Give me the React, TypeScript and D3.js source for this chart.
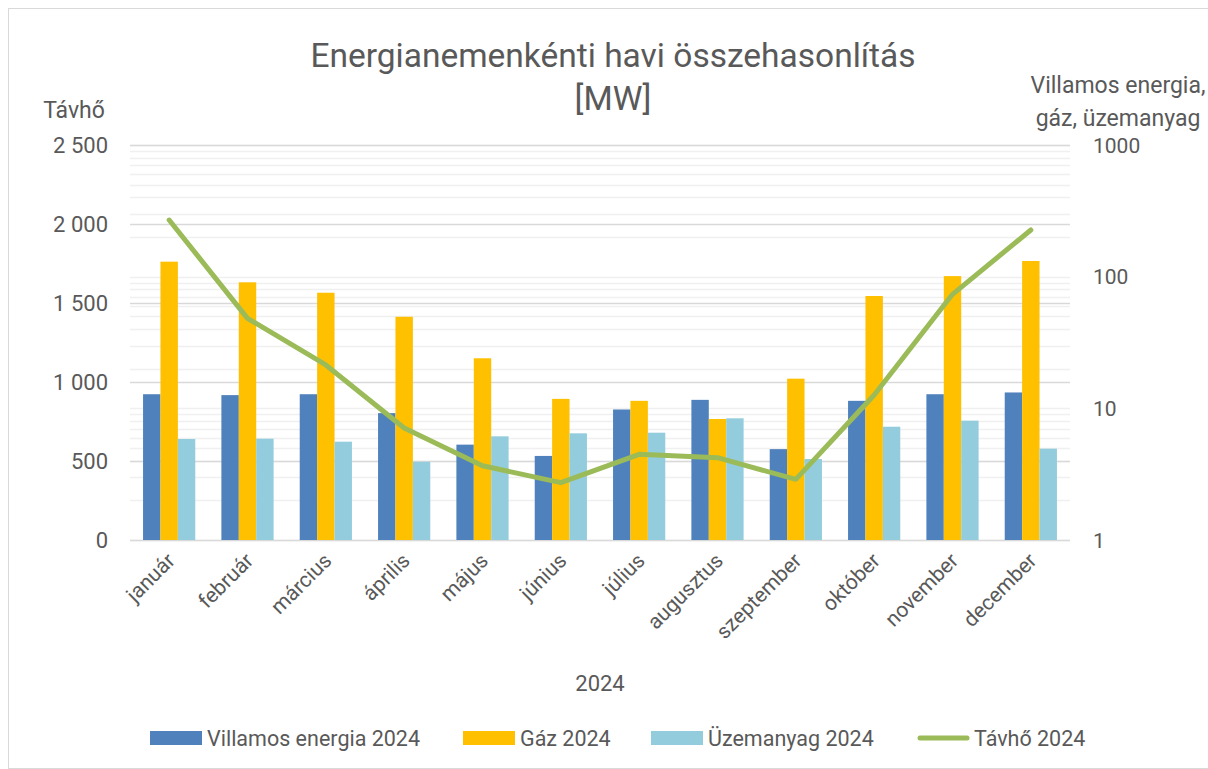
import React, { useEffect, useRef } from 'react';
import * as d3 from 'd3';

const months = ['január', 'február', 'március', 'április', 'május', 'június', 'július', 'augusztus', 'szeptember', 'október', 'november', 'december'];

// right (log) axis: Villamos energia, gáz, üzemanyag
const villamos = [12.8, 12.6, 12.8, 9.2, 5.3, 4.35, 9.8, 11.6, 4.9, 11.4, 12.8, 13.2];
const gaz = [130, 90.6, 75.5, 49.6, 24.0, 11.8, 11.4, 8.3, 16.8, 71.3, 101, 131.5];
const uzemanyag = [5.85, 5.88, 5.58, 3.93, 6.13, 6.46, 6.53, 8.4, 4.12, 7.25, 8.06, 4.94];

// left axis: Távhő
const tavho = [2025, 1403, 1108, 709, 470, 363, 542, 521, 384, 918, 1555, 1962];

const leftTicks = [0, 500, 1000, 1500, 2000, 2500];
const rightTicks = [1, 10, 100, 1000];

const seriesNames = ['Villamos energia 2024', 'Gáz 2024', 'Üzemanyag 2024'];
const colors = ['#4f81bd', '#ffc000', '#93cddd'];
const lineColor = '#9bbb59';

const W = 1208;
const H = 769;
const FONT = 'Roboto, "Open Sans", sans-serif';
const TEXT = '#595959';

const App = () => {
  const svgRef = useRef(null);

  useEffect(() => {
    const svg = d3.select(svgRef.current);
    svg.selectAll('*').remove();

    const plot = { left: 130, right: 1070, top: 145, bottom: 540 };

    const x = d3.scaleBand().domain(months).range([plot.left, plot.right]).paddingInner(0).paddingOuter(0);
    const barW = x.bandwidth() / 4.5;
    const xs = d3.scaleBand().domain(d3.range(3).map(String)).range([0, barW * 3]);

    const yLeft = d3.scaleLinear().domain([0, 2500]).range([plot.bottom, plot.top]);
    const yRight = d3.scaleLog().domain([1, 1000]).range([plot.bottom, plot.top]);

    // chart frame
    svg.append('rect')
      .attr('x', 8.5).attr('y', 8.5)
      .attr('width', W + 10).attr('height', H - 9)
      .attr('fill', 'white')
      .attr('stroke', '#d9d9d9');

    // minor log gridlines
    const minor = [];
    [1, 10, 100].forEach(d => { for (let k = 1; k <= 9; k++) minor.push(k * d); });
    minor.push(1000);
    svg.append('g').selectAll('line')
      .data(minor)
      .enter().append('line')
      .attr('x1', plot.left).attr('x2', plot.right)
      .attr('y1', d => Math.round(yRight(d)) + 0.5)
      .attr('y2', d => Math.round(yRight(d)) + 0.5)
      .attr('stroke', '#f0f0f0').attr('stroke-width', 1.5);

    // major left gridlines
    svg.append('g').selectAll('line')
      .data(leftTicks)
      .enter().append('line')
      .attr('x1', plot.left).attr('x2', plot.right)
      .attr('y1', d => Math.round(yLeft(d)) + 0.5)
      .attr('y2', d => Math.round(yLeft(d)) + 0.5)
      .attr('stroke', '#d9d9d9').attr('stroke-width', 1.5);

    // bars
    const barSeries = [villamos, gaz, uzemanyag];
    barSeries.forEach((vals, si) => {
      svg.append('g').selectAll('rect')
        .data(vals)
        .enter().append('rect')
        .attr('x', (d, i) => x(months[i]) + barW * 0.75 + xs(String(si)))
        .attr('y', d => yRight(d))
        .attr('width', xs.bandwidth())
        .attr('height', d => yRight(1) - yRight(d))
        .attr('fill', colors[si]);
    });

    // line
    const line = d3.line()
      .x((d, i) => x(months[i]) + x.bandwidth() / 2)
      .y(d => yLeft(d));
    svg.append('path')
      .datum(tavho)
      .attr('d', line)
      .attr('fill', 'none')
      .attr('stroke', lineColor)
      .attr('stroke-width', 5)
      .attr('stroke-linejoin', 'round')
      .attr('stroke-linecap', 'round');

    // title
    const title = svg.append('text')
      .attr('text-anchor', 'middle')
      .attr('font-family', FONT)
      .attr('font-size', 33.5)
      .attr('fill', TEXT);
    title.append('tspan').attr('x', 613).attr('y', 67).text('Energianemenkénti havi összehasonlítás');
    title.append('tspan').attr('x', 613).attr('y', 110).text('[MW]');

    // left axis
    svg.append('g').selectAll('text')
      .data(leftTicks)
      .enter().append('text')
      .attr('x', 108)
      .attr('y', d => yLeft(d))
      .attr('dy', '0.36em')
      .attr('text-anchor', 'end')
      .attr('font-family', FONT)
      .attr('font-size', 22)
      .attr('fill', TEXT)
      .text(d => d3.format(',')(d).replace(/,/g, ' '));

    svg.append('text')
      .attr('x', 74).attr('y', 118)
      .attr('text-anchor', 'middle')
      .attr('font-family', FONT)
      .attr('font-size', 23)
      .attr('fill', TEXT)
      .text('Távhő');

    // right axis
    svg.append('g').selectAll('text')
      .data(rightTicks)
      .enter().append('text')
      .attr('x', 1093)
      .attr('y', d => yRight(d))
      .attr('dy', '0.36em')
      .attr('font-family', FONT)
      .attr('font-size', 21)
      .attr('fill', TEXT)
      .text(d => String(d));

    const rTitle = svg.append('text')
      .attr('text-anchor', 'middle')
      .attr('font-family', FONT)
      .attr('font-size', 23)
      .attr('fill', TEXT);
    rTitle.append('tspan').attr('x', 1118).attr('y', 93).text('Villamos energia,');
    rTitle.append('tspan').attr('x', 1118).attr('y', 126).text('gáz, üzemanyag');

    // x axis labels
    svg.append('g').selectAll('text')
      .data(months)
      .enter().append('text')
      .attr('transform', d => `translate(${x(d) + x.bandwidth() / 2 + 7},${plot.bottom + 22}) rotate(-45)`)
      .attr('text-anchor', 'end')
      .attr('font-family', FONT)
      .attr('font-size', 21)
      .attr('fill', TEXT)
      .text(d => d);

    svg.append('text')
      .attr('x', 600).attr('y', 691)
      .attr('text-anchor', 'middle')
      .attr('font-family', FONT)
      .attr('font-size', 22)
      .attr('fill', TEXT)
      .text('2024');

    // legend
    const legendX = [150, 463, 651, 917];
    const legend = svg.append('g');
    seriesNames.forEach((name, i) => {
      legend.append('rect')
        .attr('x', legendX[i]).attr('y', 731)
        .attr('width', 52).attr('height', 14)
        .attr('fill', colors[i]);
      legend.append('text')
        .attr('x', legendX[i] + 57).attr('y', 746)
        .attr('font-family', FONT)
        .attr('font-size', 21.5)
        .attr('fill', TEXT)
        .text(name);
    });
    legend.append('line')
      .attr('x1', legendX[3] + 3).attr('x2', legendX[3] + 50)
      .attr('y1', 738).attr('y2', 738)
      .attr('stroke', lineColor).attr('stroke-width', 5)
      .attr('stroke-linecap', 'round');
    legend.append('text')
      .attr('x', legendX[3] + 57).attr('y', 746)
      .attr('font-family', FONT)
      .attr('font-size', 21.5)
      .attr('fill', TEXT)
      .text('Távhő 2024');
  }, []);

  return (
    <div style={{ position: 'absolute', left: 0, top: 0, width: W, height: H, overflow: 'hidden' }}>
      <svg ref={svgRef} width={W} height={H}></svg>
    </div>
  );
};

export default App;
